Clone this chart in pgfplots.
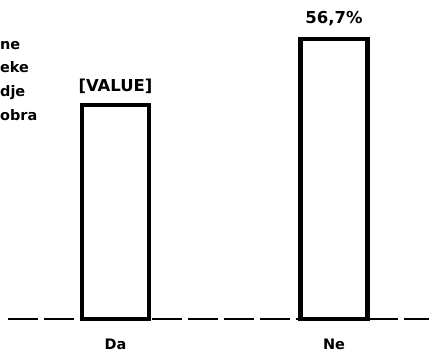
\documentclass[border=0pt]{standalone}
\usepackage{pgfplots}
\pgfplotsset{compat=1.18}
\usepackage{fontspec}
\setmainfont{DejaVu Sans}

\tikzset{lab/.style={font=\bfseries\fontsize{14.5}{17}\selectfont},
         val/.style={font=\bfseries\fontsize{16.5}{19}\selectfont}}

\begin{document}
\begin{tikzpicture}
  \begin{axis}[
      scale only axis,
      width=430bp, height=354bp,
      xmin=-0.5286, xmax=1.4394,
      ymin=-7.09, ymax=64.6,
      axis line style={draw=none},
      major tick length=0pt,
      xtick=\empty, ytick=\empty,
      ybar, bar width=67bp,
      clip=false,
    ]
    % dashed baseline
    \draw[black, line width=1.5bp, dash pattern=on 30bp off 6bp]
      (axis cs:-0.49,0) -- (axis cs:1.435,0);
    \addplot[draw=black, fill=white, line width=4.5bp, bar shift=0pt]
      coordinates {(0,43.3) (1,56.7)};
    % value labels
    \node[val] at (axis cs:0,47.2) {[VALUE]};
    \node[val] at (axis cs:1,60.75) {56,7\%};
    % category labels
    \node[lab] at (axis cs:0,-5.06) {Da};
    \node[lab] at (axis cs:1,-5.06) {Ne};
    % cut-off text at the left edge
    \node[lab, anchor=base west, inner sep=0pt] at (axis cs:-0.5286,54.5) {ne};
    \node[lab, anchor=base west, inner sep=0pt] at (axis cs:-0.5286,50.0) {eke};
    \node[lab, anchor=base west, inner sep=0pt] at (axis cs:-0.5286,44.96) {dje};
    \node[lab, anchor=base west, inner sep=0pt] at (axis cs:-0.5286,40.1) {obra};
  \end{axis}
\end{tikzpicture}
\end{document}
